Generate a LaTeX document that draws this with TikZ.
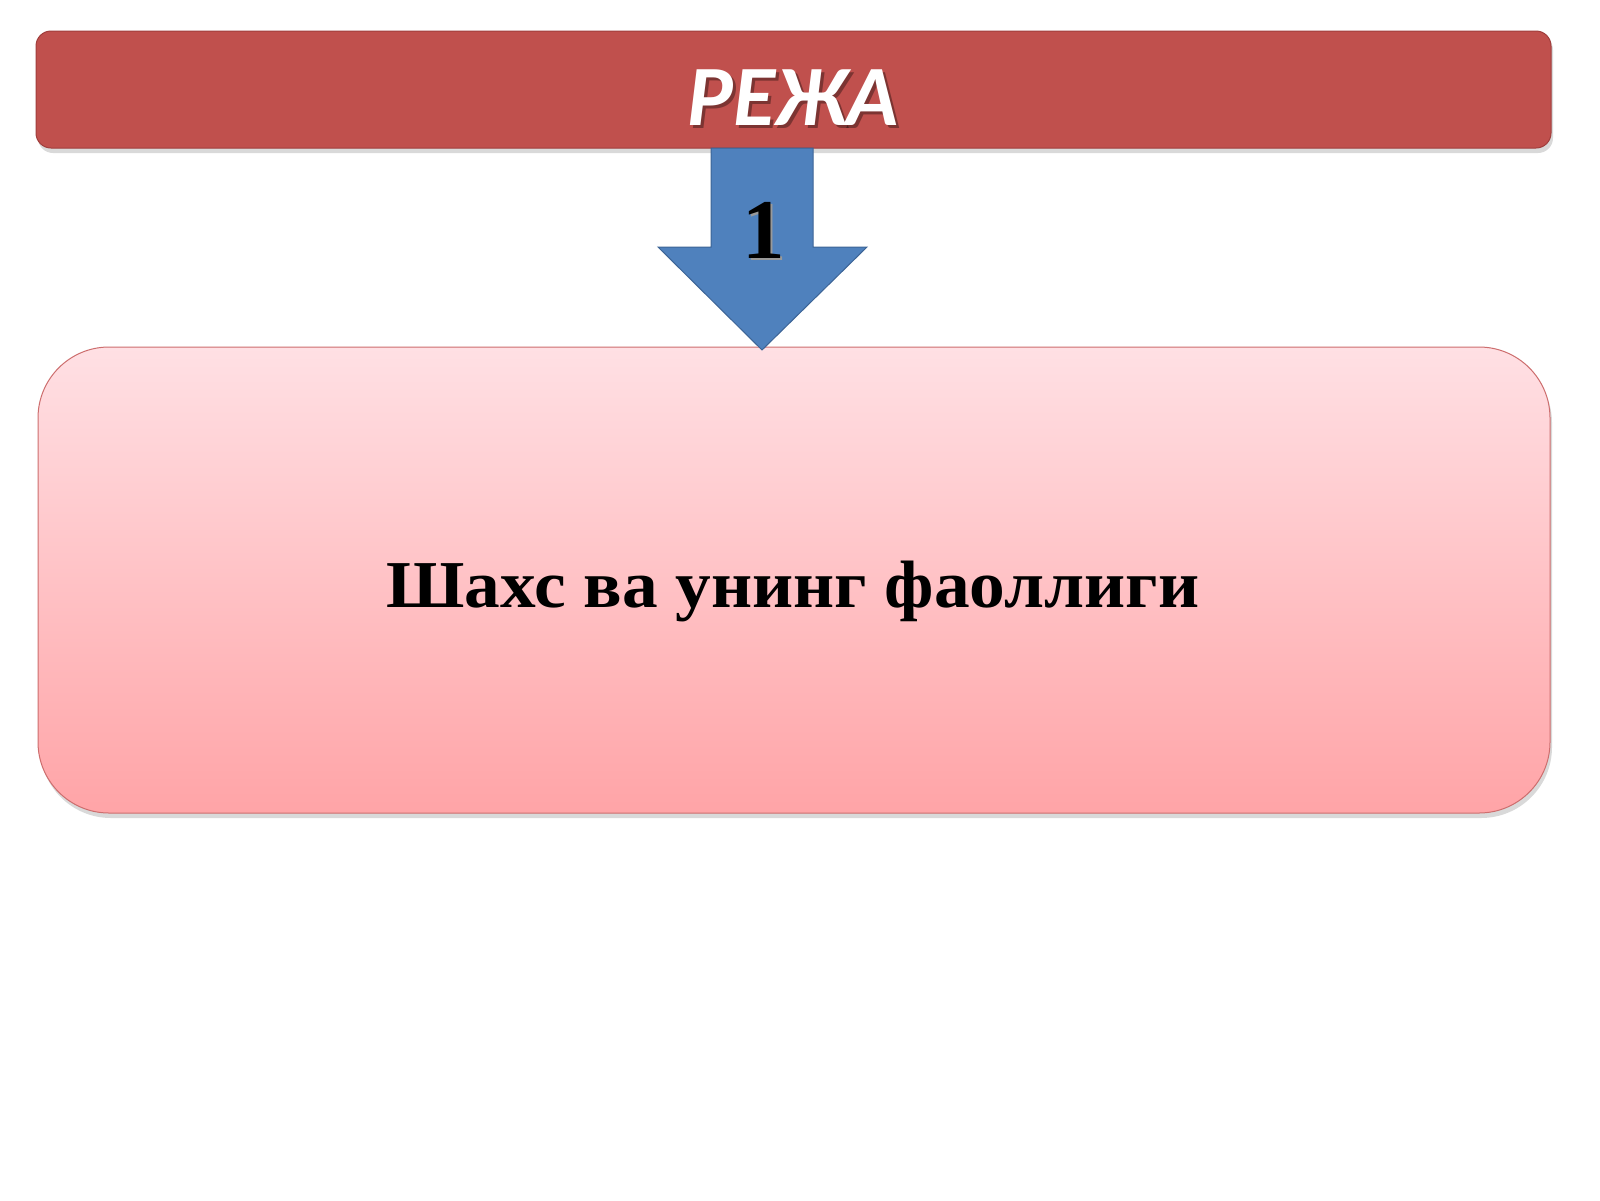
\documentclass[tikz,border=0pt]{standalone}
\usepackage{fontspec}
\setmainfont{Liberation Serif}
\newfontfamily\titlefont{Carlito}
\usetikzlibrary{calc}
\definecolor{headred}{RGB}{192,80,77}
\definecolor{headline}{RGB}{160,62,60}
\definecolor{arrowblue}{RGB}{79,129,189}
\definecolor{arrowline}{RGB}{60,100,150}
\definecolor{boxtop}{RGB}{255,224,228}
\definecolor{boxbottom}{RGB}{255,164,167}
\definecolor{boxline}{RGB}{205,110,110}

\begin{document}
\begin{tikzpicture}
    [x=1pt,y=-1pt,line join=miter]

    \useasboundingbox (0,0) rectangle (1600,1200);
    \fill[white] (0,0) rectangle (1600,1200);

    % header bar
    \fill[black,opacity=0.15,rounded corners=15pt] (38,35) rectangle (1553,153);
    \draw[headline,fill=headred,line width=1pt,rounded corners=15pt] (36,31) rectangle (1551,148);
    \node[text=black,opacity=0.35] at (796,101) {\fontsize{86}{100}\selectfont\titlefont\bfseries\itshape РЕЖА};
    \node[text=white] (title) at (793,98) {\fontsize{86}{100}\selectfont\titlefont\bfseries\itshape РЕЖА};

    % main box
    \fill[black,opacity=0.15,rounded corners=71pt] (40,352) rectangle (1552,818);
    \shade[top color=boxtop,bottom color=boxbottom,draw=boxline,line width=1pt,rounded corners=71pt]
        (38,347) rectangle (1550,813);
    \node[xscale=1.065] (topic) at (793,591) {\fontsize{67}{80}\selectfont\bfseries Шахс ва унинг фаоллиги};

    % arrow
    \coordinate (P1) at (711,148);
    \coordinate (P2) at (813,148);
    \coordinate (P3) at (813,247);
    \coordinate (P4) at (867,247);
    \coordinate (T)  at (762,350);
    \coordinate (P5) at (658,247);
    \coordinate (P6) at (711,247);
    \draw[arrowline,fill=arrowblue,line width=1pt] (P1) -- (P2) -- (P3) -- (P4) -- (T) -- (P5) -- (P6) -- cycle;
    \node[text=black!40] at (766,232) {\fontsize{85}{100}\selectfont\bfseries 1};
    \node (num) at (764,230) {\fontsize{85}{100}\selectfont\bfseries 1};
\end{tikzpicture}
\end{document}
